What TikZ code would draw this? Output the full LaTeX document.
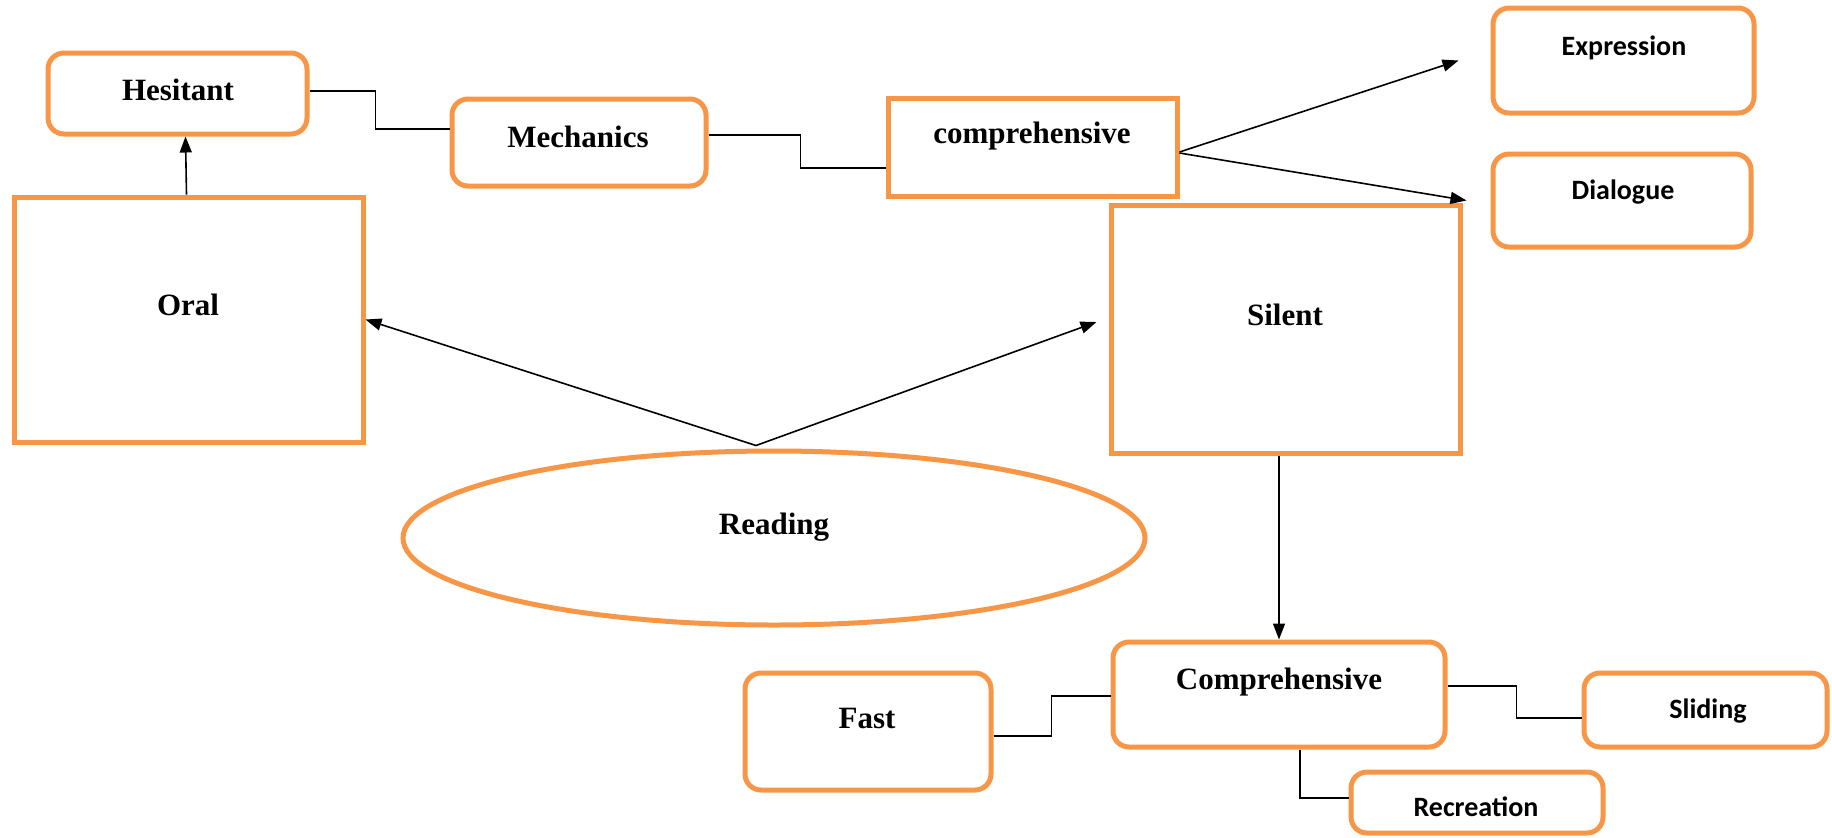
\documentclass[tikz,border=0pt]{standalone}
\usepackage{fontspec}
\setmainfont{Liberation Serif}
\newfontfamily\calfont{Carlito}
\usetikzlibrary{arrows.meta,shapes.geometric}
\definecolor{orng}{HTML}{F79646}
\begin{document}
\begin{tikzpicture}[x=0.5pt,y=-0.5pt,
  box/.style={draw=orng,line width=2.5pt,fill=white,inner sep=0pt,rectangle},
  rbox/.style={box,rounded corners=8pt},
  lbl/.style={font=\bfseries\fontsize{15.5}{18}\selectfont,anchor=base,inner sep=0pt},
  slbl/.style={font=\calfont\bfseries\fontsize{14}{17}\selectfont,anchor=base,inner sep=0pt},
  conn/.style={draw=black,line width=0.8pt},
  arr/.style={conn,-{Triangle[length=8pt,width=6pt]}}]
\useasboundingbox (0,0) rectangle (1832,837);
% boxes
\node[rbox,minimum width=129.5pt,minimum height=40.5pt] (hes) at (177.5,93.5) {};
\node[rbox,minimum width=127pt,minimum height=43.5pt] (mech) at (579,142.5) {};
\node[box,minimum width=144.5pt,minimum height=49pt] (comp1) at (1032.5,147) {};
\node[rbox,minimum width=130.5pt,minimum height=52.5pt] (expr) at (1623.5,60.5) {};
\node[rbox,minimum width=129pt,minimum height=46.5pt] (dial) at (1622,200.5) {};
\node[box,minimum width=174.5pt,minimum height=122.5pt] (oral) at (188.5,319.5) {};
\node[box,minimum width=174.5pt,minimum height=124pt] (silent) at (1285.5,329) {};
\node[draw=orng,line width=2.5pt,ellipse,inner sep=0pt,minimum width=371pt,minimum height=87pt] (read) at (774,538) {};
\node[rbox,minimum width=123pt,minimum height=58.5pt] (fast) at (868,731.5) {};
\node[rbox,minimum width=166pt,minimum height=52.5pt] (comp2) at (1279,694.5) {};
\node[rbox,minimum width=121.5pt,minimum height=37pt] (slid) at (1705.5,710) {};
\node[rbox,minimum width=126pt,minimum height=30.5pt] (recr) at (1477,802.5) {};
% labels
\node[lbl] (thes) at (178,100) {Hesitant};
\node[lbl] (tmech) at (578,147) {Mechanics};
\node[lbl] (tcomp1) at (1032,143) {comprehensive};
\node[slbl] (texpr) at (1624,55) {Expression};
\node[slbl] (tdial) at (1623,199) {Dialogue};
\node[lbl] (toral) at (188,315) {Oral};
\node[lbl] (tsilent) at (1285,325) {Silent};
\node[lbl] (tread) at (774,534) {Reading};
\node[lbl] (tfast) at (867,728) {Fast};
\node[lbl] (tcomp2) at (1279,689) {Comprehensive};
\node[slbl] (tslid) at (1708,718) {Sliding};
\node[slbl] (trecr) at (1476,816) {Recreation};
% arrows
\coordinate (rtop) at ([xshift=-9pt,yshift=1.5pt]read.north);
\draw[arr] ([xshift=-1pt]oral.north) -- ([xshift=4pt]hes.south);
\draw[arr] (rtop) -- (oral.east);
\draw[arr] (rtop) -- ([xshift=-6pt,yshift=3.5pt]silent.west);
\draw[arr] ([yshift=-2.5pt]comp1.east) -- ([xshift=-16pt]expr.west);
\draw[arr] ([yshift=-3pt]comp1.east) -- ([xshift=-12pt]dial.west);
\draw[arr] (silent.south -| comp2.north) -- (comp2.north);
% elbow connectors
\draw[conn] ([yshift=1.25pt]hes.east) -- ++(66,0) |- ([yshift=6.75pt]mech.west);
\draw[conn] ([yshift=3.75pt]mech.east) -- ++(92,0) |- ([yshift=-10.5pt]comp1.west);
\draw[conn] ([yshift=-2.25pt]fast.east) -- ++(58,0) |- ([yshift=-0.75pt]comp2.west);
\draw[conn] ([yshift=4.25pt]comp2.east) -- ++(69,0) |- ([yshift=-4pt]slid.west);
\draw[conn] ([xshift=10.5pt]comp2.south) |- ([yshift=2.25pt]recr.west);
\end{tikzpicture}
\end{document}
